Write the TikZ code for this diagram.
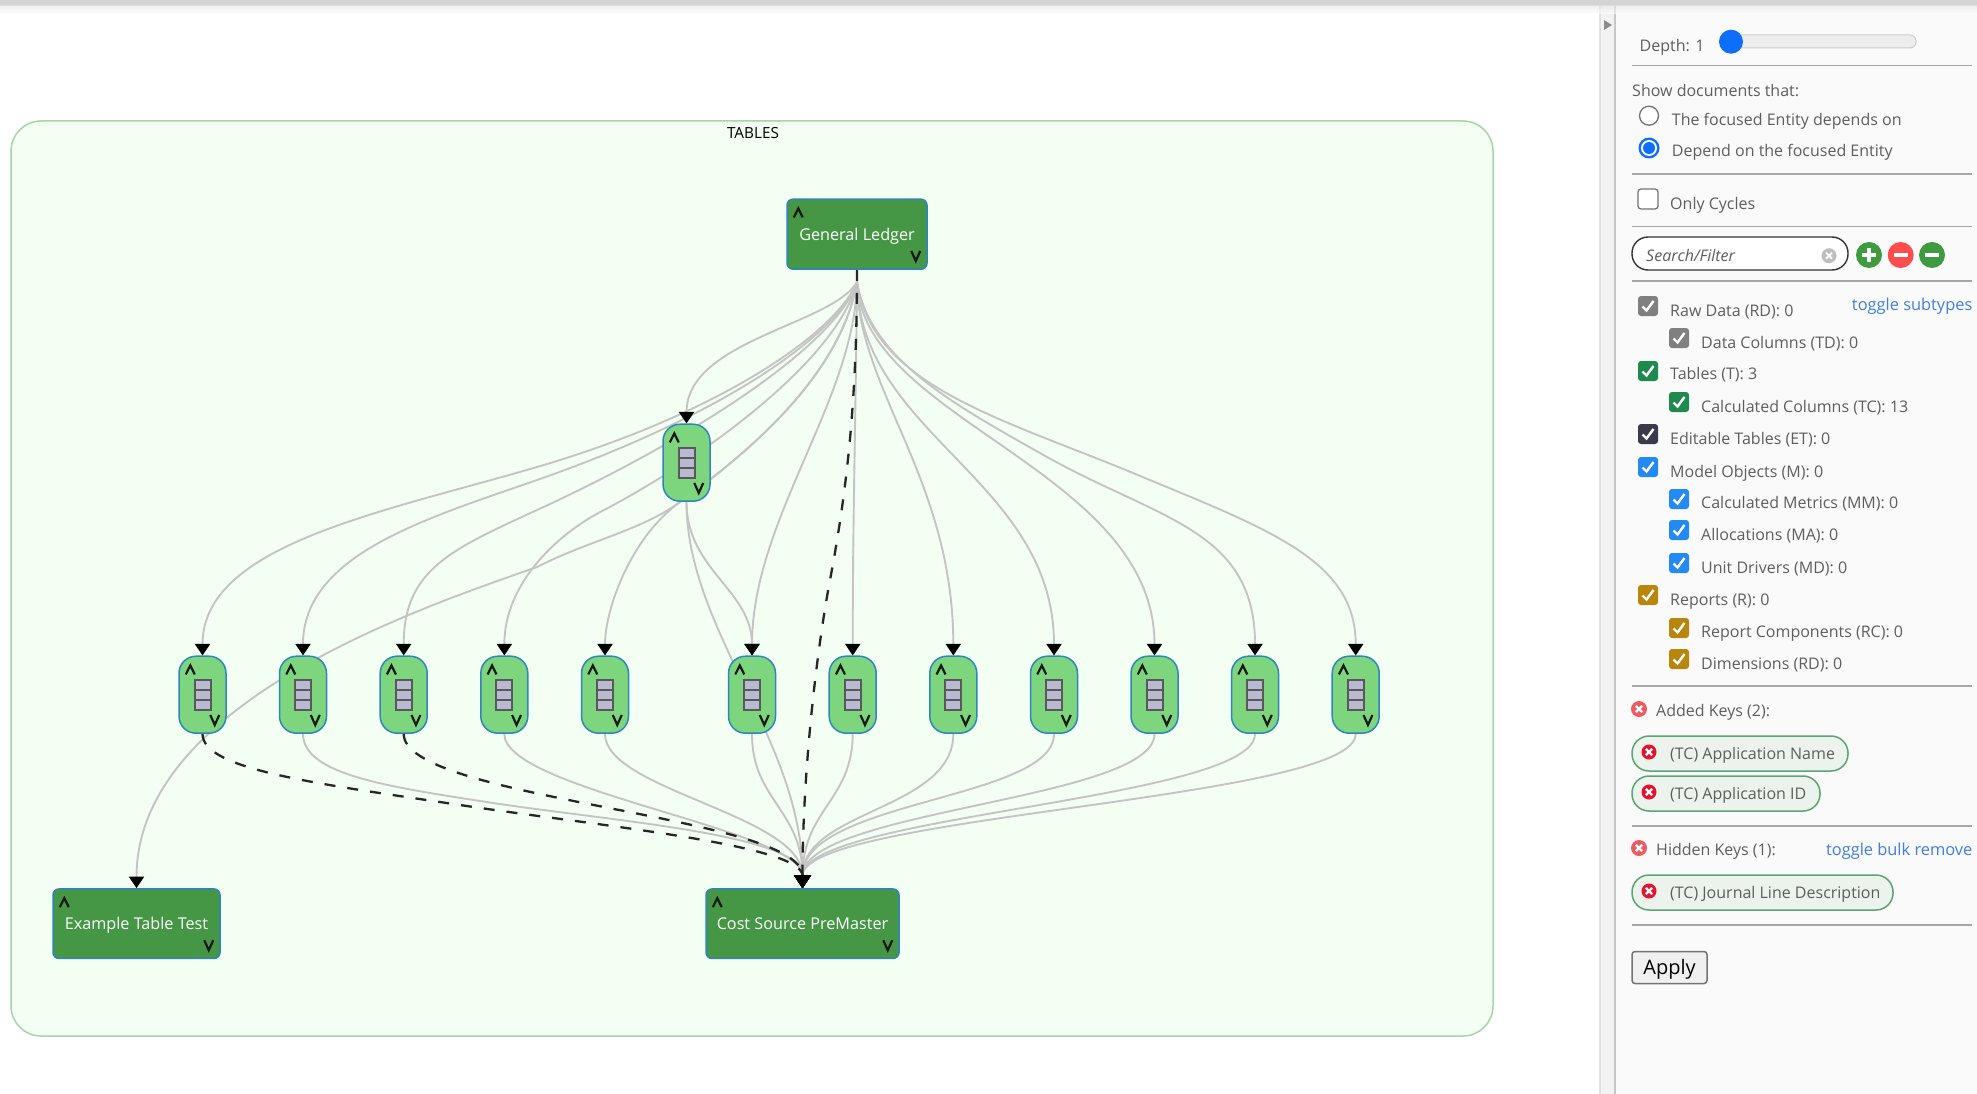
\documentclass[tikz,border=0pt]{standalone}
\usepackage{fontspec}
\setmainfont{Open Sans}
\usetikzlibrary{arrows.meta,calc}
\pgfdeclarelayer{bg}\pgfdeclarelayer{edges}
\pgfsetlayers{bg,edges,main}
\definecolor{contfill}{HTML}{F3FFF3}
\definecolor{contline}{HTML}{A5D6A5}
\definecolor{darkg}{HTML}{459645}
\definecolor{lightg}{HTML}{7DD67E}
\definecolor{nodeline}{HTML}{2F86BE}
\definecolor{edgegray}{HTML}{C4C4C4}
\definecolor{paneltext}{HTML}{5E5E5E}
\definecolor{panelbg}{HTML}{FAFAFA}
\definecolor{hrc}{HTML}{A6A6A6}
\definecolor{linkc}{HTML}{3F7FE0}
\definecolor{bluec}{HTML}{0D6EFD}
\definecolor{cbgray}{HTML}{808080}
\definecolor{cbgreen}{HTML}{1F8A4F}
\definecolor{cbdark}{HTML}{3A3A4C}
\definecolor{cbblue}{HTML}{2389F5}
\definecolor{cbgold}{HTML}{B8860B}
\definecolor{redic}{HTML}{F05A5F}
\definecolor{redic2}{HTML}{E8102A}
\definecolor{greenbtn}{HTML}{3F9B3F}
\definecolor{redbtn}{HTML}{FF4D4D}
\definecolor{pillfill}{HTML}{ECF2EC}
\definecolor{pillline}{HTML}{5AA573}
\definecolor{tablecell}{HTML}{B9B9D2}
\tikzset{
  gnode/.style={draw=nodeline,line width=1.5pt,fill=darkg,rounded corners=6pt,text=white,inner sep=0pt,text height=13pt,text depth=0.5pt,font=\fontsize{16.2}{20}\selectfont},
  lnode/.style={draw=nodeline,line width=1.5pt,fill=lightg,rounded corners=17pt,minimum width=47pt,minimum height=77pt,inner sep=0pt},
  gedge/.style={draw=edgegray,line width=1.9pt,-{Triangle[width=15pt,length=11.5pt,black]}},
  cedge/.style={draw=edgegray,line width=1.9pt,-{Triangle[width=16.5pt,length=13pt,black]}},
  dedge/.style={draw=black!85,line width=2.3pt,dash pattern=on 11pt off 12pt,-{Triangle[width=16.5pt,length=13pt,black]}},
  chev/.style={draw=black!90,line width=2.2pt,line join=miter},
  ptext/.style={anchor=west,inner sep=0pt,text=paneltext,text height=13pt,text depth=0.5pt,font=\fontsize{16}{20}\selectfont},
  plink/.style={anchor=east,inner sep=0pt,text=linkc,text height=13pt,text depth=0.5pt,font=\fontsize{16.4}{20}\selectfont},
  hr/.style={draw=hrc,line width=1.5pt},
  pill/.style={draw=pillline,fill=pillfill,line width=1.5pt,rounded corners=17pt},
}
\newcommand{\tablenode}[2]{% name, x
  \node[lnode] (#1) at (#2) {};
  \draw[fill=black!65,draw=black!65,line width=1pt] ($(#1)+(-8.5,-15)$) rectangle ($(#1)+(8.5,16)$);
  \foreach \ya/\yb in {-13.5/-5.5,-3.5/4.5,6.5/14.5}
    \fill[tablecell] ($(#1)+(-7,\ya)$) rectangle ($(#1)+(7,\yb)$);
  \chevs{#1}}
\newcommand{\chevs}[1]{%
  \draw[chev,shift={(#1.north west)}] (7.5,19) -- (12,10) -- (16.5,19);
  \draw[chev,shift={(#1.south east)}] (-16.5,-19) -- (-12,-9) -- (-7.5,-19);}
\newcommand{\cbx}[3]{% x,y,colour
  \fill[#3,rounded corners=3pt] (#1-10,#2-10) rectangle (#1+10,#2+10);
  \draw[white,line width=2.4pt] (#1-5.5,#2+0.5) -- (#1-1.5,#2+4.5) -- (#1+5.5,#2-5);}
\newcommand{\xic}[4]{% x,y,r,colour
  \fill[#4] (#1,#2) circle (#3);
  \draw[white,line width=2.2pt] (#1-3.2,#2-3.2) -- (#1+3.2,#2+3.2) (#1-3.2,#2+3.2) -- (#1+3.2,#2-3.2);}
\begin{document}
\begin{tikzpicture}[x=1pt,y=-1pt]
\useasboundingbox (0,0) rectangle (1977,1094);
% nodes
\begin{pgfonlayer}{bg}
\fill[white] (0,0) rectangle (1977,1094);
\node[draw=contline,fill=contfill,line width=1.5pt,rounded corners=30pt,minimum width=1482pt,minimum height=915pt,inner sep=0pt] (cont) at (752,578.5) {};
\end{pgfonlayer}
\node[anchor=center,inner sep=0pt,font=\fontsize{15.3}{18}\selectfont] (tablesl) at (753,133) {TABLES};
\node[gnode,minimum width=140pt,minimum height=70pt] (gl) at (857,234.2) {General Ledger};
\chevs{gl}
\node[gnode,minimum width=193pt,minimum height=69.5pt] (cost) at (802.5,923.7) {Cost Source PreMaster};
\chevs{cost}
\node[gnode,minimum width=167pt,minimum height=69.5pt] (ex) at (136.5,923.7) {Example Table Test};
\chevs{ex}
\tablenode{mid}{686.5,462.7}
\tablenode{na}{202.5,694.7}
\tablenode{nb}{303,694.7}
\tablenode{nc}{403.7,694.7}
\tablenode{nd}{504.3,694.7}
\tablenode{ne}{605,694.7}
\tablenode{nf}{752,694.7}
\tablenode{ng}{852.7,694.7}
\tablenode{nh}{953.3,694.7}
\tablenode{ni}{1054,694.7}
\tablenode{nj}{1154.5,694.7}
\tablenode{nk}{1255,694.7}
\tablenode{nl}{1355.7,694.7}
\coordinate (fan) at (857,282);
% edges
\begin{pgfonlayer}{edges}
\draw[gedge] (gl.south) -- (fan) .. controls (835,335) and (715,415) .. (537,467) .. controls (380,513) and (202.5,545) .. (na.north);
\draw[gedge] (gl.south) -- (fan) .. controls (835,340) and (710,420) .. (537,480) .. controls (425,519) and (303,555) .. (nb.north);
\draw[gedge] (gl.south) -- (fan) .. controls (837,345) and (690,440) .. (537,510) .. controls (450,550) and (403.7,570) .. (nc.north);
\draw[gedge] (gl.south) -- (fan) .. controls (838,360) and (700,460) .. (604,510) .. controls (555,535) and (504.3,585) .. (nd.north);
\draw[gedge] (gl.south) -- (fan) .. controls (840,380) and (738,460) .. (680,502) .. controls (630,538) and (605,610) .. (ne.north);
\draw[gedge] (gl.south) -- (fan) .. controls (840,380) and (738,460) .. (680,502) .. controls (640,531) and (590,540) .. (537,567) .. controls (430,605) and (136.5,700) .. (ex.north);
\draw[gedge] (gl.south) -- (fan) .. controls (855,400) and (752,520) .. (nf.north);
\draw[gedge] (gl.south) -- (fan) .. controls (856,400) and (852.7,520) .. (ng.north);
\draw[gedge] (gl.south) -- (fan) .. controls (858,390) and (953.3,480) .. (nh.north);
\draw[gedge] (gl.south) -- (fan) .. controls (860,435) and (1054,480) .. (ni.north);
\draw[gedge] (gl.south) -- (fan) .. controls (862,420) and (1154.5,470) .. (nj.north);
\draw[gedge] (gl.south) -- (fan) .. controls (870,360) and (955,405) .. (1047,457) .. controls (1160,520) and (1255,530) .. (nk.north);
\draw[gedge] (gl.south) -- (fan) .. controls (872,385) and (1000,418) .. (1133,473) .. controls (1270,530) and (1355.7,560) .. (nl.north);
\draw[gedge] (gl.south) -- (fan) .. controls (832,325) and (686.5,340) .. (mid.north);
\draw[gedge] (mid.south) .. controls (686.5,570) and (752,590) .. (nf.north);
\draw[cedge] (mid.south) .. controls (686.5,630) and (802.5,740) .. (cost.north);
\draw[cedge] (nb.south) .. controls (303,775) and (390,787) .. (493,803) .. controls (620,822) and (802.5,835) .. (cost.north);
\draw[cedge] (nd.south) .. controls (504.3,790) and (802.5,830) .. (cost.north);
\draw[cedge] (ne.south) .. controls (605,790) and (802.5,815) .. (cost.north);
\draw[cedge] (nf.south) .. controls (752,800) and (802.5,810) .. (cost.north);
\draw[cedge] (ng.south) .. controls (852.7,800) and (802.5,810) .. (cost.north);
\draw[cedge] (nh.south) .. controls (953.3,810) and (802.5,810) .. (cost.north);
\draw[cedge] (ni.south) .. controls (1054,800) and (802.5,800) .. (cost.north);
\draw[cedge] (nj.south) .. controls (1154.5,800) and (802.5,810) .. (cost.north);
\draw[cedge] (nk.south) .. controls (1255,800) and (802.5,815) .. (cost.north);
\draw[cedge] (nl.south) .. controls (1355.7,800) and (802.5,815) .. (cost.north);
\draw[dedge] (gl.south) .. controls (857,400) and (847,490) .. (830,580) .. controls (815,660) and (802.5,780) .. (cost.north);
\draw[dedge] (na.south) .. controls (202.5,770) and (320,784) .. (460,805) .. controls (600,826) and (802.5,845) .. (cost.north);
\draw[dedge] (nc.south) .. controls (403.7,800) and (802.5,815) .. (cost.north);
\end{pgfonlayer}
% panel and top shadow
\fill[panelbg] (1600,6) rectangle (1977,1094);
\fill[black!5] (1600,6) rectangle (1615,1094);
\draw[black!12,line width=2pt] (1600,6) -- (1600,1094);
\draw[black!22,line width=2pt] (1615,6) -- (1615,1094);
\fill[black!45] (1604,20) -- (1612,25) -- (1604,30) -- cycle;
\fill[black!17] (0,0) rectangle (1977,6);
\shade[top color=black!9,bottom color=white,opacity=0.6] (0,6) rectangle (1977,14);
% depth
\node[ptext] (tdepth) at (1639.5,45.5) {Depth: 1};
\draw[black!20,fill=black!7,line width=1pt,rounded corners=6pt] (1730,35) rectangle (1916,48);
\fill[bluec] (1731,41.7) circle (12);
\draw[hr] (1632,65.7) -- (1972,65.7);
\node[ptext] (tshow) at (1632,90) {Show documents that:};
\draw[black!55,fill=white,line width=1.3pt] (1649,115.7) circle (9.5);
\node[ptext] (tr1) at (1671.7,119) {The focused Entity depends on};
\fill[bluec] (1649,148) circle (10.5);
\fill[white] (1649,148) circle (8);
\fill[bluec] (1649,148) circle (6);
\node[ptext] (tr2) at (1671.7,150) {Depend on the focused Entity};
\draw[hr] (1632,174) -- (1972,174);
\draw[black!55,fill=white,line width=1.3pt,rounded corners=3pt] (1638,189) rectangle (1658,209);
\node[ptext] (tcyc) at (1670,203) {Only Cycles};
\draw[hr] (1632,226.7) -- (1972,226.7);
\draw[black!80,fill=white,line width=1.4pt,rounded corners=16pt] (1632,237) rectangle (1848,270);
\node[ptext,font=\fontsize{16}{20}\selectfont\itshape] (tsearch) at (1646,255.7) {Search/Filter};
\fill[black!25] (1829,255.7) circle (7.5);
\draw[white,line width=1.8pt] (1826,252.7) -- (1832,258.7) (1826,258.7) -- (1832,252.7);
\fill[greenbtn] (1869,255) circle (13);
\draw[white,line width=4pt] (1862,255) -- (1876,255) (1869,248) -- (1869,262);
\fill[redbtn] (1900.7,255) circle (13);
\draw[white,line width=4pt] (1893.7,255) -- (1907.7,255);
\fill[greenbtn] (1932,255) circle (13);
\draw[white,line width=4pt] (1925,255) -- (1939,255);
\draw[hr] (1632,281) -- (1972,281);
% checkboxes
\cbx{1648}{306}{cbgray}
\node[ptext] (t01) at (1670,310) {Raw Data (RD): 0};
\node[plink] (l1) at (1972.5,304) {toggle subtypes};
\cbx{1679}{338}{cbgray}
\node[ptext] (t02) at (1701,342) {Data Columns (TD): 0};
\cbx{1648}{371}{cbgreen}
\node[ptext] (t03) at (1670,373) {Tables (T): 3};
\cbx{1679}{402}{cbgreen}
\node[ptext] (t04) at (1701,406) {Calculated Columns (TC): 13};
\cbx{1648}{434}{cbdark}
\node[ptext] (t05) at (1670,438) {Editable Tables (ET): 0};
\cbx{1648}{467}{cbblue}
\node[ptext] (t06) at (1670,471) {Model Objects (M): 0};
\cbx{1679}{499}{cbblue}
\node[ptext] (t07) at (1701,502) {Calculated Metrics (MM): 0};
\cbx{1679}{530}{cbblue}
\node[ptext] (t08) at (1701,534) {Allocations (MA): 0};
\cbx{1679}{563}{cbblue}
\node[ptext] (t09) at (1701,567) {Unit Drivers (MD): 0};
\cbx{1648}{595}{cbgold}
\node[ptext] (t10) at (1670,599) {Reports (R): 0};
\cbx{1679}{628}{cbgold}
\node[ptext] (t11) at (1701,631) {Report Components (RC): 0};
\cbx{1679}{659}{cbgold}
\node[ptext] (t12) at (1701,663) {Dimensions (RD): 0};
\draw[hr] (1632,686) -- (1972,686);
% keys
\xic{1639}{709}{8}{redic}
\node[ptext] (tadded) at (1656,710) {Added Keys (2):};
\draw[pill] (1632,736) rectangle (1848,771);
\xic{1649}{752}{7.5}{redic2}
\node[ptext] (tk1) at (1670,753) {(TC) Application Name};
\draw[pill] (1632,776) rectangle (1820,811);
\xic{1649}{792}{7.5}{redic2}
\node[ptext] (tk2) at (1670,793) {(TC) Application ID};
\draw[hr] (1632,826) -- (1972,826);
\xic{1639}{848}{8}{redic}
\node[ptext] (thidden) at (1656,849) {Hidden Keys (1):};
\node[plink] (l2) at (1972.5,849) {toggle bulk remove};
\draw[pill] (1632,875) rectangle (1893,910);
\xic{1649}{891}{7.5}{redic2}
\node[ptext] (tk3) at (1670,892) {(TC) Journal Line Description};
\draw[hr] (1632,925) -- (1972,925);
\node[draw=black!55,fill=black!6,line width=1.5pt,rounded corners=3pt,minimum width=75pt,minimum height=32pt,inner sep=0pt,text height=15pt,text depth=1pt,font=\fontsize{20}{24}\selectfont] (apply) at (1669.5,967.5) {Apply};
\end{tikzpicture}
\end{document}
